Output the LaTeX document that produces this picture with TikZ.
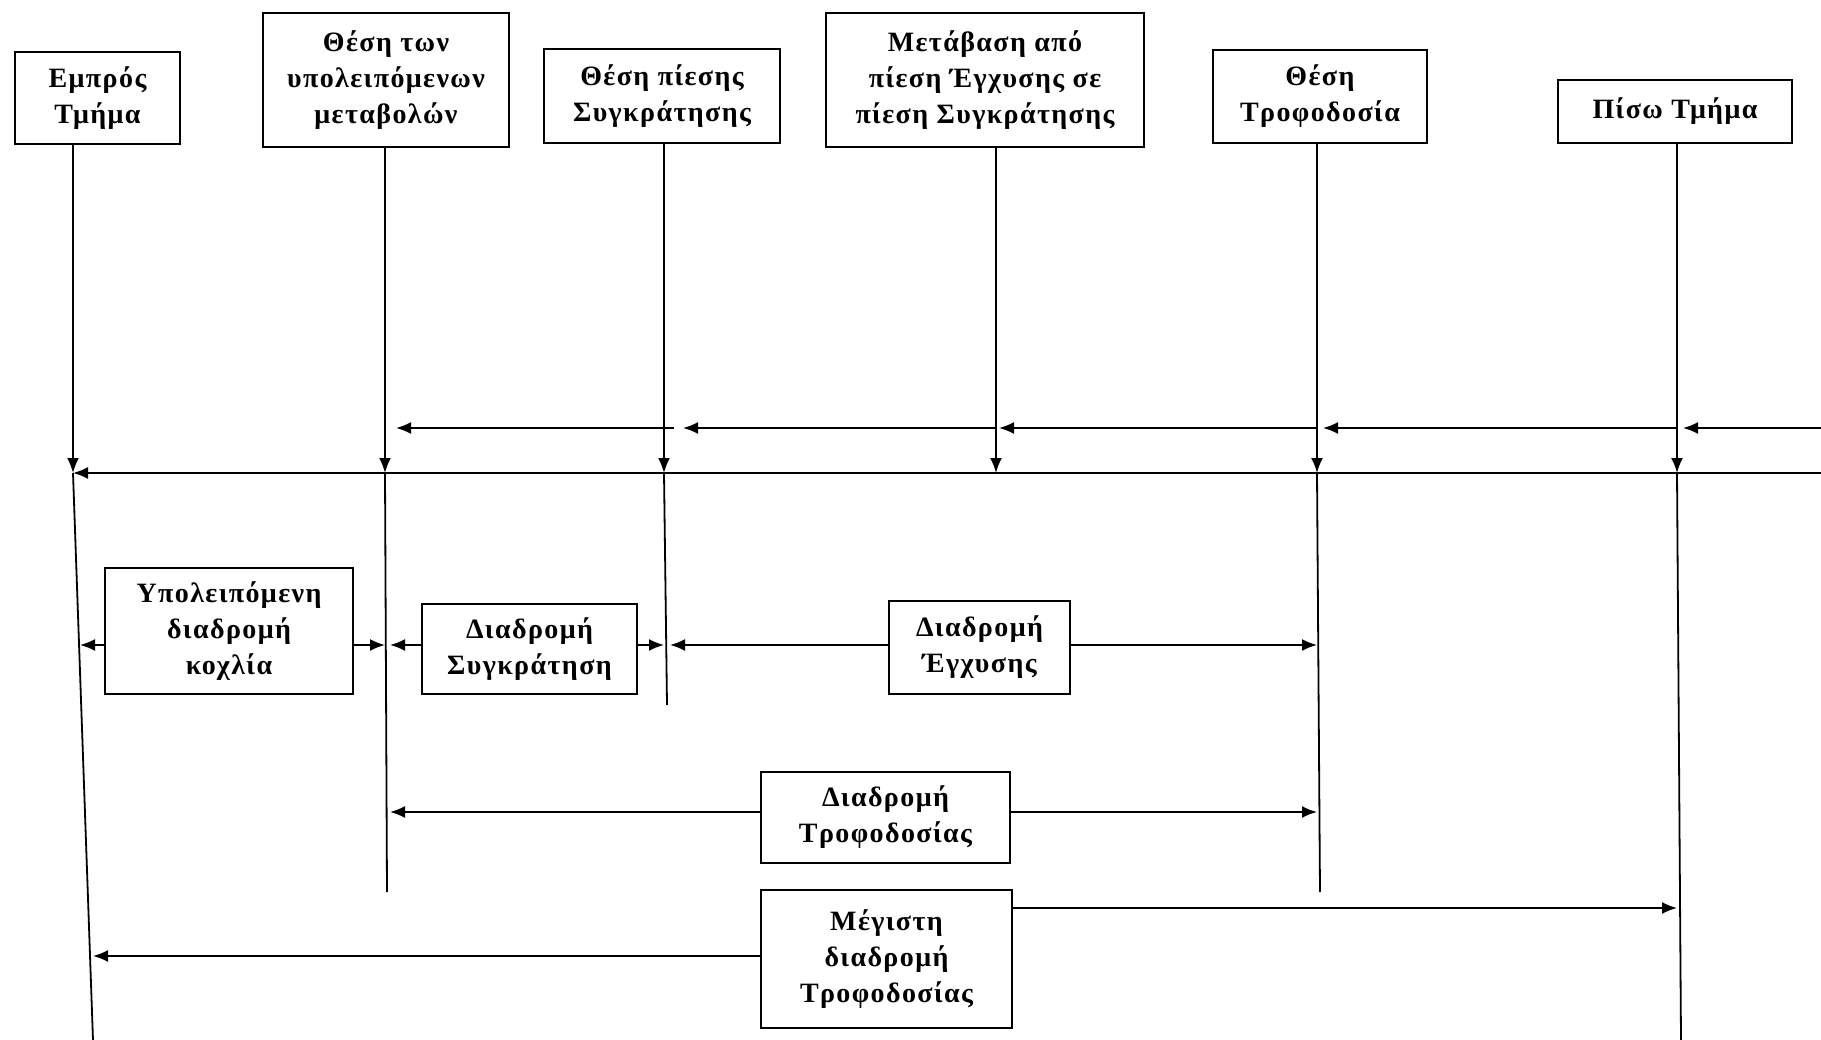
\documentclass[tikz,border=0pt]{standalone}
\usepackage{fontspec}
\setmainfont{Liberation Serif}
\newfontfamily\boxfont[LetterSpace=5]{Liberation Serif}
\usetikzlibrary{arrows.meta,calc}
\begin{document}
\begin{tikzpicture}[x=1pt,y=-1pt,
  box/.style={draw,line width=2.2pt,align=center,font=\boxfont\bfseries\fontsize{28}{36}\selectfont,inner sep=0pt},
  conn/.style={line width=1.8pt},
  arr/.style={conn,-{Latex[length=15pt,width=12pt]}}]
\useasboundingbox[fill=white] (0,0) rectangle (1821,1040);
% boxes
\node[box,minimum width=165pt,minimum height=92pt] (b1) at (97.5,98) {Εμπρός\\Τμήμα};
\node[box,minimum width=246pt,minimum height=134pt] (b2) at (386,80) {Θέση των\\υπολειπόμενων\\μεταβολών};
\node[box,minimum width=236pt,minimum height=94pt] (b3) at (662,96) {Θέση πίεσης\\Συγκράτησης};
\node[box,minimum width=318pt,minimum height=134pt] (b4) at (985,80) {Μετάβαση από\\πίεση Έγχυσης σε\\πίεση Συγκράτησης};
\node[box,minimum width=214pt,minimum height=93pt] (b5) at (1320,96.5) {Θέση\\Τροφοδοσία};
\node[box,minimum width=234pt,minimum height=63pt] (b6) at (1675,111.5) {Πίσω Τμήμα};
\node[box,minimum width=248pt,minimum height=126pt] (b7) at (229,631) {Υπολειπόμενη\\διαδρομή\\κοχλία};
\node[box,minimum width=215pt,minimum height=90pt] (b8) at (529.5,649) {Διαδρομή\\Συγκράτηση};
\node[box,minimum width=181pt,minimum height=93pt] (b9) at (979.5,647.5) {Διαδρομή\\Έγχυσης};
\node[box,minimum width=249pt,minimum height=91pt] (b10) at (885.5,817.5) {Διαδρομή\\Τροφοδοσίας};
\node[box,minimum width=251pt,minimum height=138pt] (b11) at (886.5,959) {Μέγιστη\\διαδρομή\\Τροφοδοσίας};
% columns and rows
\coordinate (c1) at (73,0);
\coordinate (c2) at (385,0);
\coordinate (c3) at (664,0);
\coordinate (c4) at (996,0);
\coordinate (c5) at (1317,0);
\coordinate (c6) at (1677,0);
\coordinate (re) at (1821,0);
\coordinate (rA) at (0,428);
\coordinate (rB) at (0,473);
\coordinate (rC) at (0,645);
\coordinate (rD) at (0,812);
\coordinate (rE) at (0,908);
\coordinate (rF) at (0,956);
% line ends
\coordinate (bot1) at (93,1040);
\coordinate (end2) at (387,892);
\coordinate (end3) at (667,705);
\coordinate (end5) at (1320,892);
\coordinate (bot6) at (1681,1040);
% vertical arrows down to row B
\draw[arr] (b1.south -| c1) -- (c1 |- rB);
\draw[arr] (b2.south -| c2) -- (c2 |- rB);
\draw[arr] (b3.south -| c3) -- (c3 |- rB);
\draw[arr] (b4.south -| c4) -- (c4 |- rB);
\draw[arr] (b5.south -| c5) -- (c5 |- rB);
\draw[arr] (b6.south -| c6) -- (c6 |- rB);
% vertical continuations
\draw[conn] (c1 |- rB) -- (bot1);
\draw[conn] (c2 |- rB) -- (end2);
\draw[conn] (c3 |- rB) -- (end3);
\draw[conn] (c5 |- rB) -- (end5);
\draw[conn] (c6 |- rB) -- (bot6);
% row A
\coordinate (tA1) at (396,428);
\coordinate (sA1) at (674,428);
\coordinate (tA2) at (683,428);
\coordinate (tA3) at (999,428);
\coordinate (tA4) at (1323,428);
\coordinate (tA5) at (1683,428);
\draw[arr] (re |- rA) -- (tA5);
\draw[arr] (c6 |- rA) -- (tA4);
\draw[arr] (c5 |- rA) -- (tA3);
\draw[arr] (c4 |- rA) -- (tA2);
\draw[arr] (sA1) -- (tA1);
% row B
\draw[arr] (re |- rB) -- (c1 |- rB);
% row C
\coordinate (tC1) at (80,645);
\coordinate (tC3) at (390,645);
\coordinate (tC5) at (670,645);
\draw[arr] (b7.west |- rC) -- (tC1);
\draw[arr] (b7.east |- rC) -- (c2 |- rC);
\draw[arr] (b8.west |- rC) -- (tC3);
\draw[arr] (b8.east |- rC) -- (c3 |- rC);
\draw[arr] (b9.west |- rC) -- (tC5);
\draw[arr] (b9.east |- rC) -- (c5 |- rC);
% row D
\coordinate (tD1) at (390,812);
\draw[arr] (b10.west |- rD) -- (tD1);
\draw[arr] (b10.east |- rD) -- (c5 |- rD);
% row E/F
\coordinate (tF) at (93,956);
\draw[arr] (b11.east |- rE) -- (c6 |- rE);
\draw[arr] (b11.west |- rF) -- (tF);
\end{tikzpicture}
\end{document}
